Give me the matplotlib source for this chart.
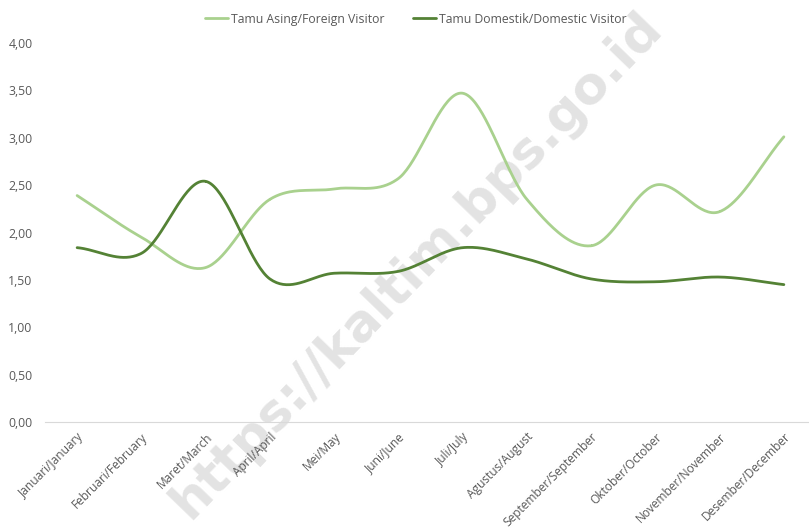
import numpy as np
import matplotlib
matplotlib.use("Agg")
import matplotlib.pyplot as plt

months = ['Januari/January', 'Februari/February', 'Maret/March', 'April/April',
          'Mei/May', 'Juni/June', 'Juli/July', 'Agustus/August',
          'September/September', 'Oktober/October', 'November/November',
          'Desember/December']
foreign = [2.39, 1.95, 1.63, 2.35, 2.46, 2.57, 3.47, 2.35, 1.86, 2.50, 2.22, 3.01]
domestic = [1.84, 1.78, 2.54, 1.51, 1.57, 1.59, 1.84, 1.72, 1.51, 1.48, 1.53, 1.45]
yticks = [0, 0.5, 1, 1.5, 2, 2.5, 3, 3.5, 4]
ytick_labels = ['0,00', '0,50', '1,00', '1,50', '2,00', '2,50', '3,00', '3,50', '4,00']


def smooth(x, y, n=40):
    # catmull-rom spline, similar to Excel's smoothed line
    x = np.asarray(x, float)
    y = np.asarray(y, float)
    px = np.concatenate([[2 * x[0] - x[1]], x, [2 * x[-1] - x[-2]]])
    py = np.concatenate([[2 * y[0] - y[1]], y, [2 * y[-1] - y[-2]]])
    xs, ys = [], []
    t = np.linspace(0, 1, n)
    for i in range(1, len(px) - 2):
        for p, out in ((px, xs), (py, ys)):
            p0, p1, p2, p3 = p[i - 1], p[i], p[i + 1], p[i + 2]
            out.extend(0.5 * (2 * p1 + (-p0 + p2) * t
                              + (2 * p0 - 5 * p1 + 4 * p2 - p3) * t ** 2
                              + (-p0 + 3 * p1 - 3 * p2 + p3) * t ** 3))
    return np.array(xs), np.array(ys)


plt.rcParams['font.family'] = ['Open Sans', 'DejaVu Sans']
fig = plt.figure(figsize=(8.09, 5.30), dpi=100)

# watermark behind the chart
fig.text(0.515, 0.50, 'https://kaltim.bps.go.id', rotation=46, fontsize=37,
         fontweight='bold', color='#dadada', alpha=0.75, ha='center', va='center',
         family='DejaVu Sans', zorder=-1)

ax = fig.add_axes([45 / 809, 108 / 530, 771 / 809, 379 / 530])
ax.patch.set_alpha(0)

x = np.arange(len(months))
fx, fy = smooth(x, foreign)
dx, dy = smooth(x, domestic)
ax.plot(fx, fy, color='#a9d18e', lw=2.0, label='Tamu Asing/Foreign Visitor', solid_capstyle='round')
ax.plot(dx, dy, color='#548235', lw=2.0, label='Tamu Domestik/Domestic Visitor', solid_capstyle='round')

ax.set_xlim(-0.5, 11.5)
ax.set_ylim(0, 4)
ax.set_yticks(yticks)
ax.set_yticklabels(ytick_labels, fontsize=8.8, color='#595959')
ax.set_xticks(x)
ax.set_xticklabels(months, rotation=45, ha='right', rotation_mode='anchor',
                   fontsize=8.6, color='#595959')
ax.tick_params(length=0, pad=6)
ax.tick_params(axis='y', pad=9)
for s in ['top', 'right', 'left']:
    ax.spines[s].set_visible(False)
ax.spines['bottom'].set_color('#d9d9d9')

fig.legend(loc='upper center', bbox_to_anchor=(0.514, 0.997), ncol=2, frameon=False,
           fontsize=8.8, labelcolor='#595959', handlelength=1.9, handletextpad=0.25,
           columnspacing=2.3)

fig.savefig('out.png', dpi=100)
